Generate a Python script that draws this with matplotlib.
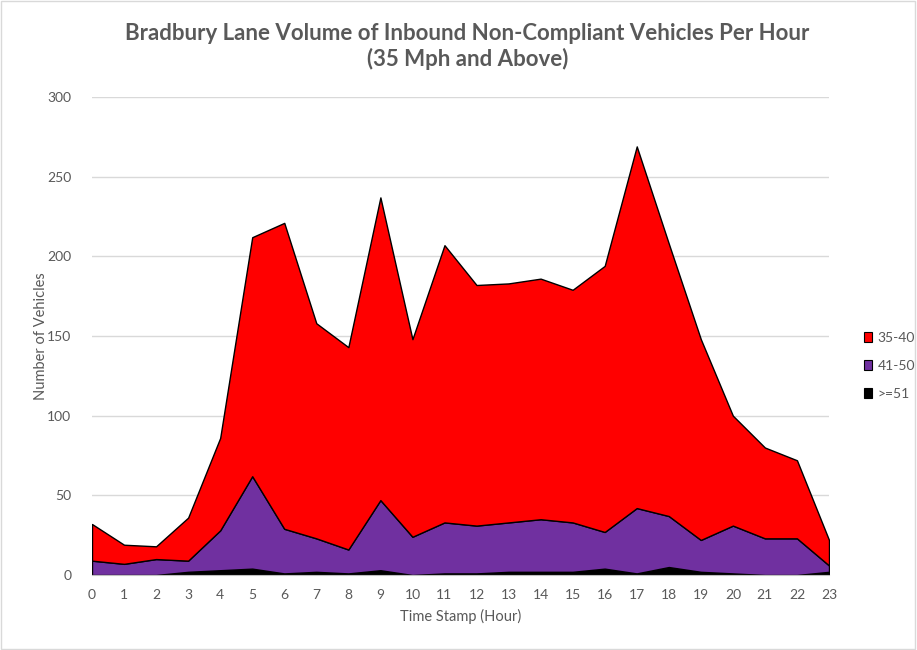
import matplotlib.pyplot as plt
from matplotlib.patches import Rectangle
import numpy as np

hours = list(range(24))
s_35_40 = [23, 12, 8, 27, 58, 150, 192, 135, 127, 190, 124, 174,
           151, 150, 151, 146, 167, 227, 171, 126, 69, 57, 49, 16]
s_41_50 = [9, 7, 10, 7, 25, 58, 28, 21, 15, 44, 24, 32,
           30, 31, 33, 31, 23, 41, 32, 20, 30, 23, 23, 4]
s_ge_51 = [0, 0, 0, 2, 3, 4, 1, 2, 1, 3, 0, 1,
           1, 2, 2, 2, 4, 1, 5, 2, 1, 0, 0, 2]
series_labels = ["35-40", "41-50", ">=51"]
colors = {"35-40": "#ff0000", "41-50": "#7030a0", ">=51": "#000000"}

plt.rcParams["font.family"] = ["Lato", "DejaVu Sans"]
gray = "#595959"

fig = plt.figure(figsize=(9.17, 6.5), dpi=100)
ax = fig.add_axes([92 / 917, 1 - 575 / 650, (829 - 92) / 917, (575 - 97) / 650])

# stacked bottom-up: >=51, 41-50, 35-40
ax.stackplot(hours, s_ge_51, s_41_50, s_35_40,
             colors=[colors[">=51"], colors["41-50"], colors["35-40"]],
             edgecolor="black", linewidth=1.0, zorder=2)

ax.set_xlim(0, 23)
ax.set_ylim(0, 300)
ax.set_xticks(hours)
ax.set_yticks(range(0, 301, 50))
ax.tick_params(axis="both", length=0, labelsize=10, labelcolor=gray)
ax.tick_params(axis="x", pad=10)
ax.tick_params(axis="y", pad=15)
ax.grid(axis="y", color="#d9d9d9", linewidth=1.0, zorder=0)
ax.set_axisbelow(True)
for side in ["top", "right", "left"]:
    ax.spines[side].set_visible(False)
ax.spines["bottom"].set_color("#bfbfbf")
ax.spines["bottom"].set_zorder(3)

ax.set_xlabel("Time Stamp (Hour)", fontsize=10.5, color=gray, labelpad=6)
ax.set_ylabel("Number of Vehicles", fontsize=10.5, color=gray, labelpad=-1)

fig.text(0.51, 0.965, "Bradbury Lane Volume of Inbound Non-Compliant Vehicles Per Hour\n(35 Mph and Above)",
         ha="center", va="top", fontsize=16, fontweight="bold", color=gray, linespacing=1.25)

handles = [Rectangle((0, 0), 1, 1, facecolor=colors[l], edgecolor="black", linewidth=0.8)
           for l in series_labels]
fig.legend(handles, series_labels, loc="center left", bbox_to_anchor=(0.942, 0.437),
           frameon=False, fontsize=10, labelcolor=gray, handlelength=0.6, handleheight=0.75,
           handletextpad=0.4, labelspacing=1.15, borderaxespad=0, borderpad=0)

fig.patches.append(Rectangle((0.001, 0.001), 0.997, 0.997, transform=fig.transFigure,
                             fill=False, edgecolor="#d9d9d9", linewidth=1))

fig.savefig("out.png", dpi=100)
